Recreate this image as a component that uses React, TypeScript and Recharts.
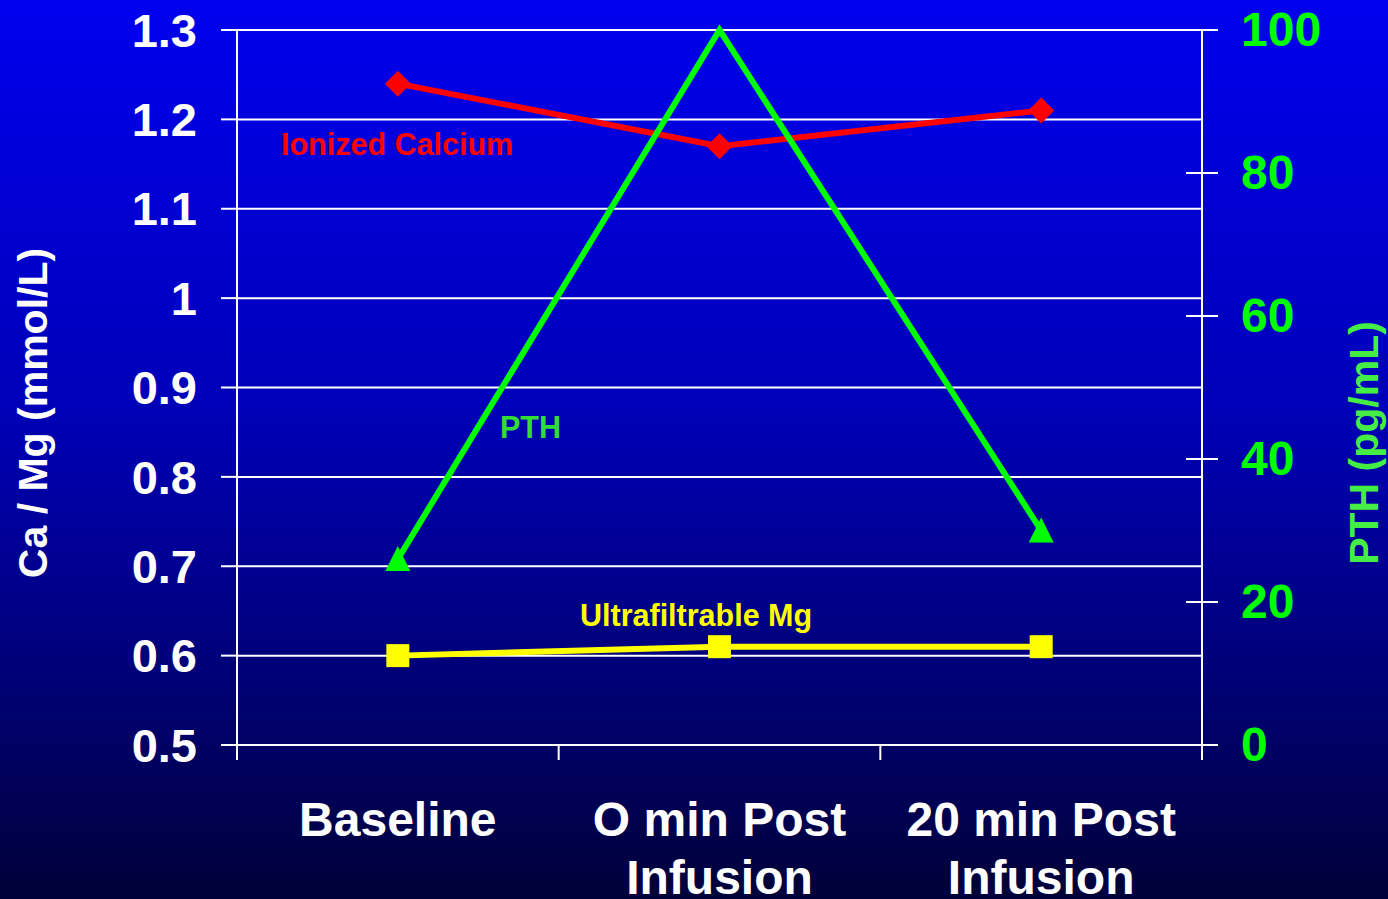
import { LineChart, Line, XAxis, YAxis, CartesianGrid } from 'recharts';

const categories = ['Baseline', 'O min Post\nInfusion', '20 min Post\nInfusion'];
const ionizedCalcium = [1.24, 1.17, 1.21];
const ultrafiltrableMg = [0.6, 0.61, 0.61];
const pth = [26, 100, 30];

const leftTicks = [0.5, 0.6, 0.7, 0.8, 0.9, 1, 1.1, 1.2, 1.3];
const rightTicks = [0, 20, 40, 60, 80, 100];

const data = categories.map((name, i) => ({
  name,
  ca: ionizedCalcium[i],
  mg: ultrafiltrableMg[i],
  pth: pth[i],
}));

const FONT = "Arial, 'Liberation Sans', sans-serif";
const W = 1388;
const H = 899;

function Diamond(props: any) {
  const { cx, cy, index } = props;
  const r = 13;
  return (
    <polygon
      key={`ca-${index}`}
      points={`${cx},${cy - r} ${cx + r},${cy} ${cx},${cy + r} ${cx - r},${cy}`}
      fill="#ff0000"
    />
  );
}

function Triangle(props: any) {
  const { cx, cy, index, payload } = props;
  // marker at the top of the scale is not shown in the original
  if (payload.pth >= rightTicks[rightTicks.length - 1]) return <g key={`pth-${index}`} />;
  return (
    <polygon
      key={`pth-${index}`}
      points={`${cx},${cy - 13} ${cx + 12.5},${cy + 12} ${cx - 12.5},${cy + 12}`}
      fill="#00ff00"
    />
  );
}

function Square(props: any) {
  const { cx, cy, index } = props;
  return <rect key={`mg-${index}`} x={cx - 11.5} y={cy - 11.5} width={23} height={23} fill="#ffff00" />;
}

function CategoryTick(props: any) {
  const { x, y, payload, index, visibleTicksCount } = props;
  const off = payload.offset ?? 0;
  const lines = String(payload.value).split('\n');
  const isLast = index === visibleTicksCount - 1;
  return (
    <g>
      <line x1={x - off} x2={x - off} y1={y} y2={y + 15} stroke="#fff" strokeWidth={2} />
      {isLast && <line x1={x + off} x2={x + off} y1={y} y2={y + 15} stroke="#fff" strokeWidth={2} />}
      {lines.map((l, i) => (
        <text
          key={i}
          x={x}
          y={y + 91 + i * 58}
          textAnchor="middle"
          fill="#ffffff"
          fontSize={48}
          fontWeight="bold"
          fontFamily={FONT}
        >
          {l}
        </text>
      ))}
    </g>
  );
}

function RightTick(props: any) {
  const { x, y, payload } = props;
  return (
    <g>
      <line x1={x - 57} x2={x - 25} y1={y} y2={y} stroke="#fff" strokeWidth={2} />
      <text
        x={x - 2}
        y={y + 16}
        textAnchor="start"
        fill="#00ff00"
        fontSize={48}
        fontWeight="bold"
        fontFamily={FONT}
      >
        {payload.value}
      </text>
    </g>
  );
}

export default function App() {
  return (
    <div
      style={{
        position: 'absolute',
        left: 0,
        top: 0,
        width: W,
        height: H,
        background:
          'linear-gradient(to bottom, #0000ee 0%, #0000b8 45%, #000070 78%, #000038 100%)',
        fontFamily: FONT,
      }}
    >
      <LineChart width={W} height={H} data={data} margin={{ top: 30, right: 0, bottom: 0, left: 0 }}>
        <CartesianGrid yAxisId="left" vertical={false} stroke="#ffffff" strokeWidth={2} />
        <XAxis
          dataKey="name"
          scale="band"
          height={154}
          tickSize={0}
          tickMargin={0}
          tickLine={false}
          axisLine={{ stroke: '#ffffff', strokeWidth: 2 }}
          tick={<CategoryTick />}
          interval={0}
        />
        <YAxis
          yAxisId="left"
          width={237}
          domain={[0.5, 1.3]}
          ticks={leftTicks}
          allowDataOverflow
          tickSize={16}
          tickMargin={24}
          axisLine={{ stroke: '#ffffff', strokeWidth: 2 }}
          tickLine={{ stroke: '#ffffff', strokeWidth: 2 }}
          tick={{ fill: '#ffffff', fontSize: 47, fontWeight: 'bold', fontFamily: FONT }}
          interval={0}
        />
        <YAxis
          yAxisId="right"
          orientation="right"
          width={186}
          domain={[0, 100]}
          ticks={rightTicks}
          tickSize={16}
          tickMargin={25}
          tickLine={false}
          axisLine={{ stroke: '#ffffff', strokeWidth: 2 }}
          tick={<RightTick />}
          interval={0}
        />
        <Line
          yAxisId="left"
          dataKey="ca"
          stroke="#ff0000"
          strokeWidth={6}
          dot={Diamond}
          activeDot={false}
          isAnimationActive={false}
        />
        <Line
          yAxisId="left"
          dataKey="mg"
          stroke="#ffff00"
          strokeWidth={6}
          dot={Square}
          activeDot={false}
          isAnimationActive={false}
        />
        <Line
          yAxisId="right"
          dataKey="pth"
          stroke="#00ff00"
          strokeWidth={6}
          dot={Triangle}
          activeDot={false}
          isAnimationActive={false}
        />
      </LineChart>
      <svg
        width={W}
        height={H}
        style={{ position: 'absolute', left: 0, top: 0, pointerEvents: 'none' }}
        fontFamily={FONT}
        fontWeight="bold"
      >
        <text x={281} y={155} fill="#ff0000" fontSize={30.5}>
          Ionized Calcium
        </text>
        <text x={500} y={438} fill="#33dd33" fontSize={30.5}>
          PTH
        </text>
        <text x={580} y={626} fill="#ffff00" fontSize={30.5}>
          Ultrafiltrable Mg
        </text>
        <text transform="translate(47,413) rotate(-90)" textAnchor="middle" fill="#ffffff" fontSize={41}>
          Ca / Mg (mmol/L)
        </text>
        <text transform="translate(1378,443) rotate(-90)" textAnchor="middle" fill="#44ee44" fontSize={41}>
          PTH (pg/mL)
        </text>
      </svg>
    </div>
  );
}
